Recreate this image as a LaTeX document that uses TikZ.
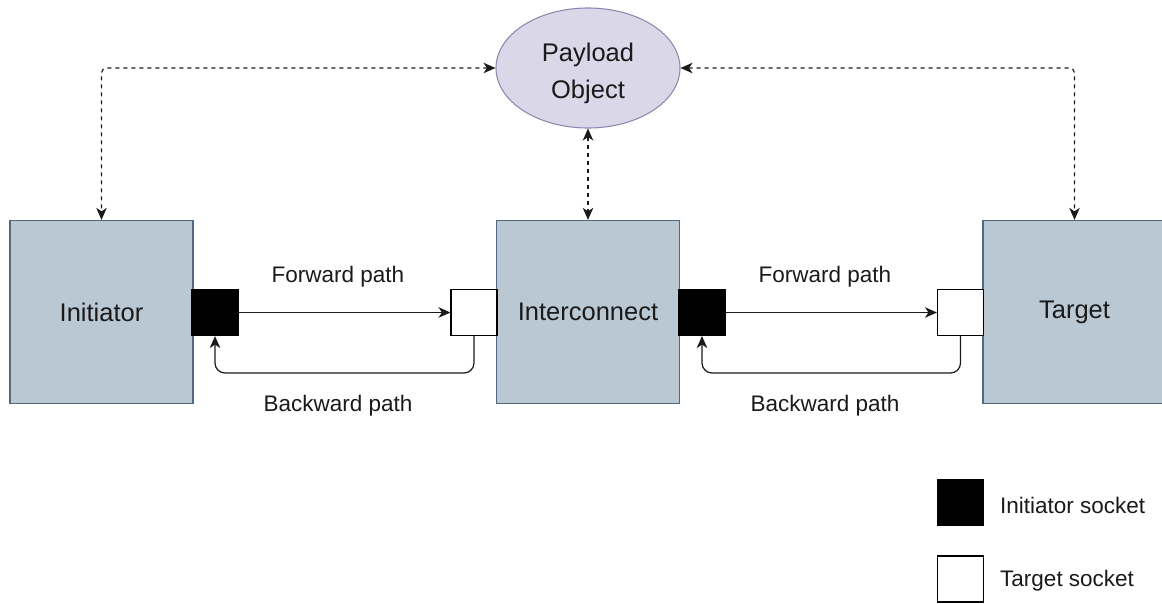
\documentclass[tikz,border=0pt]{standalone}
\usepackage{fontspec}
\setmainfont{Liberation Sans}
\usetikzlibrary{arrows.meta,shapes.geometric}
\definecolor{boxfill}{HTML}{BAC8D3}
\definecolor{boxline}{HTML}{4F6A80}
\definecolor{ellfill}{HTML}{DAD8E8}
\definecolor{ellline}{HTML}{8E8AB0}
\definecolor{txt}{HTML}{1A1A1A}
\tikzset{
  block/.style={draw=boxline, fill=boxfill, line width=1.3pt, minimum width=183pt,
    minimum height=183pt, inner sep=0pt, text=txt, font=\fontsize{25.5}{30}\selectfont},
  isock/.style={draw=black, fill=black, line width=1.1pt, minimum width=46pt, minimum height=46pt, inner sep=0pt},
  tsock/.style={draw=black, fill=white, line width=1.1pt, minimum width=46pt, minimum height=46pt, inner sep=0pt},
  lbl/.style={text=txt, font=\fontsize{22.5}{27}\selectfont, inner sep=0pt},
  tip/.style={Stealth[length=12pt,width=10.5pt,inset=3.5pt]},
  flow/.style={draw=txt, line width=1.2pt, -{Stealth[length=12pt,width=10.5pt,inset=3.5pt]}},
  back/.style={flow, rounded corners=10pt},
  link/.style={draw=txt, line width=1.2pt, dash pattern=on 4pt off 4pt, rounded corners=5pt,
    {Stealth[length=12pt,width=10.5pt,inset=3.5pt]}-{Stealth[length=12pt,width=10.5pt,inset=3.5pt]}},
}
\begin{document}
\begin{tikzpicture}[x=1pt, y=-1pt]
\useasboundingbox (0,0) rectangle (1162,603);

% main components
\node[block] (ini) at (101.5,312) {Initiator};
\node[block] (ic)  at (588,312) {Interconnect};
\node[block] (tgt) at (1074.5,312) {Target};

% shared payload
\node[ellipse, draw=ellline, fill=ellfill, line width=1.1pt, minimum width=184pt, minimum height=120pt,
  inner sep=0pt] (pay) at (588,68) {};
\node[text=txt, align=center, inner sep=0pt, font=\fontsize{25.5}{37}\selectfont] (paytxt) at (588,73) {Payload\\Object};

% sockets
\node[isock] (is1) at (215,312.5) {};
\node[tsock] (ts1) at (474,312.5) {};
\node[isock] (is2) at (702,312.5) {};
\node[tsock] (ts2) at (960.5,312.5) {};

% payload access
\draw[link] (pay.west) -| (ini.north);
\draw[link] (pay.south) -- (ic.north);
\draw[link] (pay.east) -| (tgt.north);

% forward paths
\draw[flow] (is1.east) -- (ts1.west);
\draw[flow] (is2.east) -- (ts2.west);
\node[lbl] (fw1) at (338,277) {Forward path};
\node[lbl] (fw2) at (825,277) {Forward path};

% backward paths
\coordinate (bk1) at (215,373);
\coordinate (bk2) at (702,373);
\draw[back] (ts1.south) |- (bk1) -- (is1.south);
\draw[back] (ts2.south) |- (bk2) -- (is2.south);
\node[lbl] (bw1) at (338,406) {Backward path};
\node[lbl] (bw2) at (825,406) {Backward path};

% legend
\node[isock] (lgi) at (960.5,502.5) {};
\node[tsock] (lgt) at (960.5,579) {};
\node[lbl, anchor=west] (lgit) at (1000,505) {Initiator socket};
\node[lbl, anchor=west] (lgtt) at (1000,581) {Target socket};
\end{tikzpicture}
\end{document}
